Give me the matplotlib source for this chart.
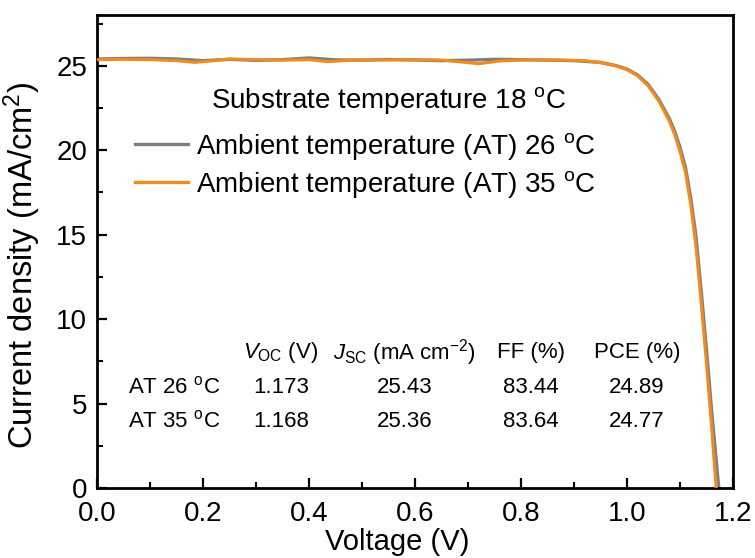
import matplotlib
matplotlib.use("Agg")
import matplotlib.pyplot as plt
from matplotlib.lines import Line2D
from matplotlib.ticker import MultipleLocator

plt.rcParams["font.family"] = ["Liberation Sans", "DejaVu Sans"]
plt.rcParams["mathtext.fontset"] = "custom"
plt.rcParams["mathtext.rm"] = "Liberation Sans"
plt.rcParams["mathtext.it"] = "Liberation Sans:italic"

# J-V curves, ambient temperature 26 C
v_26 = [0.00, 0.05, 0.10, 0.15, 0.20, 0.25, 0.30, 0.35, 0.40, 0.45, 0.50, 0.55,
        0.60, 0.65, 0.70, 0.75, 0.80, 0.85, 0.90, 0.95, 0.98, 1.00, 1.02, 1.04,
        1.06, 1.08, 1.09, 1.10, 1.11, 1.12, 1.13, 1.14, 1.15, 1.16, 1.173]
j_26 = [25.40, 25.43, 25.44, 25.40, 25.30, 25.38, 25.32, 25.36, 25.46, 25.35, 25.33, 25.37,
        25.34, 25.30, 25.33, 25.38, 25.36, 25.33, 25.30, 25.20, 25.00, 24.80, 24.45, 23.88,
        23.00, 21.85, 21.10, 20.15, 19.00, 17.20, 14.90, 11.60, 8.10, 4.40, 0.00]

# J-V curves, ambient temperature 35 C
v_35 = [0.00, 0.05, 0.10, 0.15, 0.185, 0.22, 0.25, 0.30, 0.35, 0.40, 0.435, 0.50,
        0.55, 0.60, 0.65, 0.72, 0.76, 0.82, 0.87, 0.92, 0.95, 0.98, 1.00, 1.02,
        1.04, 1.06, 1.08, 1.09, 1.10, 1.11, 1.12, 1.13, 1.14, 1.15, 1.16, 1.168]
j_35 = [25.36, 25.38, 25.36, 25.30, 25.20, 25.30, 25.40, 25.36, 25.33, 25.36, 25.24, 25.36,
        25.34, 25.36, 25.34, 25.12, 25.28, 25.36, 25.34, 25.30, 25.18, 24.98, 24.76, 24.40,
        23.80, 22.90, 21.70, 20.90, 19.90, 18.70, 16.80, 14.30, 10.90, 7.30, 3.40, 0.00]

# photovoltaic parameters
row_names = ["AT 26 $^{\\rm o}$C", "AT 35 $^{\\rm o}$C"]
col_names = ["$V_{\\rm OC}$ (V)", "$J_{\\rm SC}$ (mA cm$^{-2}$)", "FF (%)", "PCE (%)"]
voc = ["1.173", "1.168"]
jsc = ["25.43", "25.36"]
ff = ["83.44", "83.64"]
pce = ["24.89", "24.77"]

gray = "#7f7f7f"
orange = "#f28a1e"

fig = plt.figure(figsize=(7.55, 5.58), dpi=100)
ax = fig.add_axes([0.1285, 0.1254, 0.8425, 0.8476])

ax.plot(v_26, j_26, color=gray, lw=2.4, zorder=2)
ax.plot(v_35, j_35, color=orange, lw=2.2, zorder=3)

ax.set_xlim(0, 1.2)
ax.set_ylim(0, 28)
ax.xaxis.set_major_locator(MultipleLocator(0.2))
ax.xaxis.set_minor_locator(MultipleLocator(0.1))
ax.yaxis.set_major_locator(MultipleLocator(5))
ax.yaxis.set_minor_locator(MultipleLocator(2.5))
ax.tick_params(which="major", direction="in", length=7, width=1.6, labelsize=20, pad=7)
ax.tick_params(axis="x", which="major", pad=9)
ax.tick_params(which="minor", direction="in", length=4, width=1.5)
for s in ax.spines.values():
    s.set_linewidth(2.0)

ax.set_xlabel("Voltage (V)", fontsize=21)
ax.xaxis.set_label_coords(0.472, -0.144)
ax.xaxis.label.set_va("bottom")
ax.set_ylabel("Current density (mA/cm$^2$)", fontsize=23.5)
ax.yaxis.set_label_coords(-0.085, 0.472)

ax.text(0.179, 0.82, "Substrate temperature 18 $^{\\rm o}$C", transform=ax.transAxes,
        fontsize=20, ha="left", va="center")
handles = [Line2D([], [], color=gray, lw=2.4), Line2D([], [], color=orange, lw=2.4)]
labels = ["Ambient temperature (AT) 26 $^{\\rm o}$C", "Ambient temperature (AT) 35 $^{\\rm o}$C"]
ax.legend(handles, labels, loc="upper left", bbox_to_anchor=(0.06, 0.755), frameon=False,
          fontsize=20, handlelength=1.9, handletextpad=0.3, labelspacing=0.25,
          borderpad=0, borderaxespad=0)

# parameter table
col_x = [0.289, 0.483, 0.682, 0.849]
head_y = 0.2875
row_y = [0.2135, 0.1416]
for x, name in zip(col_x, col_names):
    ax.text(x, head_y, name, transform=ax.transAxes, fontsize=16, ha="center", va="center")
for i, y in enumerate(row_y):
    ax.text(0.049, y, row_names[i], transform=ax.transAxes, fontsize=16, ha="left", va="center")
    for x, vals in zip(col_x, [voc, jsc, ff, pce]):
        ax.text(x, y, vals[i], transform=ax.transAxes, fontsize=16, ha="center", va="center")

fig.savefig("out.png", dpi=100)
